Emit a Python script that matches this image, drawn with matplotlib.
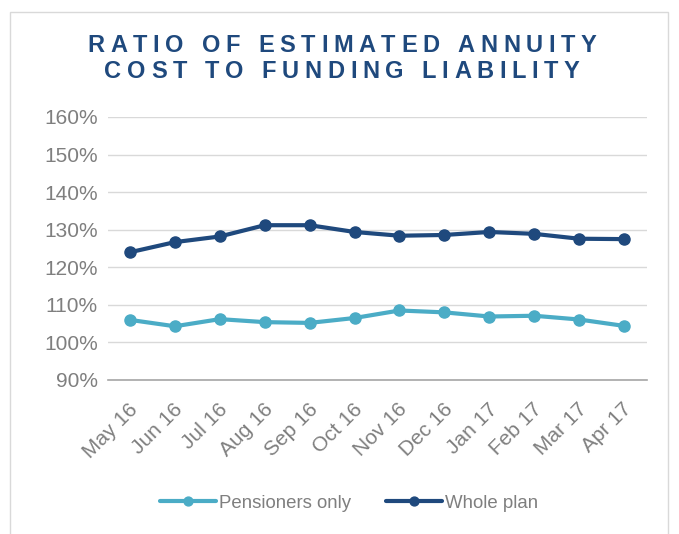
import matplotlib
matplotlib.use("Agg")
import matplotlib.pyplot as plt
from matplotlib.patches import Rectangle
from matplotlib.ticker import FuncFormatter, MultipleLocator
from matplotlib.transforms import ScaledTranslation

months = ["May 16", "Jun 16", "Jul 16", "Aug 16", "Sep 16", "Oct 16",
          "Nov 16", "Dec 16", "Jan 17", "Feb 17", "Mar 17", "Apr 17"]
pensioners_only = [106.0, 104.3, 106.2, 105.4, 105.2, 106.5,
                   108.5, 108.0, 106.9, 107.1, 106.1, 104.4]
whole_plan = [124.0, 126.7, 128.2, 131.2, 131.2, 129.4,
              128.4, 128.6, 129.4, 128.9, 127.6, 127.5]

title_lines = ["RATIO OF ESTIMATED ANNUITY", "COST TO FUNDING LIABILITY"]

LIGHT = "#4BACC6"
DARK = "#1F497D"
GREY_TXT = "#7F7F7F"

plt.rcParams["font.family"] = ["Liberation Sans", "DejaVu Sans"]

W, H = 679, 534
fig = plt.figure(figsize=(W / 100, H / 100), dpi=100)

# outer border of the chart box
fig.patches.append(Rectangle((10 / W, -0.01), 658 / W, 1 - 12 / H + 0.01,
                             transform=fig.transFigure, fill=False,
                             edgecolor="#D9D9D9", linewidth=1))

ax = fig.add_axes([107.5 / W, 1 - 380 / H, 539 / W, 263 / H])
x = range(len(months))
ax.plot(x, pensioners_only, color=LIGHT, lw=3, marker="o", ms=8,
        label="Pensioners only", solid_capstyle="round")
ax.plot(x, whole_plan, color=DARK, lw=3, marker="o", ms=8,
        label="Whole plan", solid_capstyle="round")

ax.set_xlim(-0.5, len(months) - 0.5)
ax.set_ylim(90, 160)
ax.yaxis.set_major_locator(MultipleLocator(10))
ax.yaxis.set_major_formatter(FuncFormatter(lambda v, p: f"{v:.0f}%"))
ax.grid(axis="y", color="#D9D9D9", lw=1)
ax.set_axisbelow(True)
for s in ["top", "right", "left"]:
    ax.spines[s].set_visible(False)
ax.spines["bottom"].set_color("#A6A6A6")
ax.spines["bottom"].set_linewidth(1.2)
ax.tick_params(length=0, labelsize=15, labelcolor=GREY_TXT)
ax.tick_params(axis="y", pad=7)
ax.set_xticks(list(x))
ax.set_xticklabels(months, rotation=45, ha="right", va="center",
                   rotation_mode="anchor")
ax.tick_params(axis="x", pad=14)
shift = ScaledTranslation(5 / 100, -7 / 100, fig.dpi_scale_trans)
for lab in ax.get_xticklabels():
    lab.set_transform(lab.get_transform() + shift)

leg = fig.legend(loc="center", bbox_to_anchor=(349 / W, 1 - 503 / H), ncol=2,
                 frameon=False, fontsize=13.4, handlelength=3.0,
                 handletextpad=0.15, columnspacing=1.9, markerscale=0.8)
for t in leg.get_texts():
    t.set_color(GREY_TXT)

# letter-spaced title, drawn one character at a time
fig.canvas.draw()
renderer = fig.canvas.get_renderer()
title_kw = dict(fontsize=17, fontweight="bold", color=DARK)


def char_widths(s):
    ws = []
    for c in s:
        t = fig.text(0, 0, c if c != " " else "n", **title_kw)
        ws.append(t.get_window_extent(renderer).width * (0.5 if c == " " else 1))
        t.remove()
    return ws


target = 509
ws0 = char_widths(title_lines[0])
spacing = (target - sum(ws0)) / (len(title_lines[0]) - 1)
for line, yc in zip(title_lines, [45, 72]):
    ws = char_widths(line)
    total = sum(ws) + spacing * (len(line) - 1)
    xpos = 342 - total / 2
    for c, w in zip(line, ws):
        if c != " ":
            fig.text(xpos / W, 1 - yc / H, c, ha="left", va="center", **title_kw)
        xpos += w + spacing

fig.savefig("out.png", dpi=100)
